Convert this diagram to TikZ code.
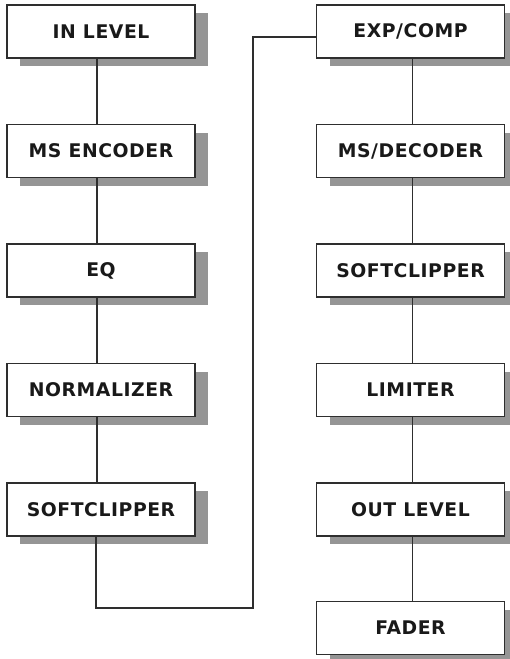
\documentclass[tikz,border=0pt]{standalone}
\usepackage{fontspec}
\setmainfont[LetterSpace=3]{DejaVu Sans}
\usetikzlibrary{shadows}
\definecolor{shadowgray}{HTML}{959595}
\definecolor{linegray}{HTML}{2E2E2E}
\begin{document}
\begin{tikzpicture}[x=1pt,y=-1pt,
  stage/.style={draw=linegray, line width=1.3pt, fill=white, minimum width=188pt, minimum height=53pt,
    inner sep=0pt, font=\fontsize{18.8}{20}\selectfont\bfseries, text=black!90,
    drop shadow={shadow xshift=13pt, shadow yshift=-8pt, fill=shadowgray, opacity=1}},
  wire/.style={draw=linegray, line width=1.2pt}]
\useasboundingbox (0,0) rectangle (509,659);
\node[stage] (inlevel) at (101,31.5) {IN LEVEL};
\node[stage] (msenc) at (101,151) {MS ENCODER};
\node[stage] (eq) at (101,270.5) {EQ};
\node[stage] (norm) at (101,390) {NORMALIZER};
\node[stage] (soft1) at (101,509.5) {SOFTCLIPPER};
\node[stage] (expcomp) at (410.5,31.5) {EXP/COMP};
\node[stage] (msdec) at (410.5,151) {MS/DECODER};
\node[stage] (soft2) at (410.5,270.5) {SOFTCLIPPER};
\node[stage] (limiter) at (410.5,390) {LIMITER};
\node[stage] (outlevel) at (410.5,509.5) {OUT LEVEL};
\node[stage] (fader) at (410.5,628) {FADER};
\coordinate (c1) at (96,608);
\coordinate (c2) at (253,608);
\coordinate (c3) at (253,37);
\draw[wire] ([xshift=-4pt]inlevel.south) -- ([xshift=-4pt]msenc.north);
\draw[wire] ([xshift=-4pt]msenc.south) -- ([xshift=-4pt]eq.north);
\draw[wire] ([xshift=-4pt]eq.south) -- ([xshift=-4pt]norm.north);
\draw[wire] ([xshift=-4pt]norm.south) -- ([xshift=-4pt]soft1.north);
\draw[wire] ([xshift=-5pt]soft1.south) -- (c1) -- (c2) -- (c3) -- (expcomp.west |- c3);
\draw[wire] ([xshift=2pt]expcomp.south) -- ([xshift=2pt]msdec.north);
\draw[wire] ([xshift=2pt]msdec.south) -- ([xshift=2pt]soft2.north);
\draw[wire] ([xshift=2pt]soft2.south) -- ([xshift=2pt]limiter.north);
\draw[wire] ([xshift=2pt]limiter.south) -- ([xshift=2pt]outlevel.north);
\draw[wire] ([xshift=2pt]outlevel.south) -- ([xshift=2pt]fader.north);
\end{tikzpicture}
\end{document}
